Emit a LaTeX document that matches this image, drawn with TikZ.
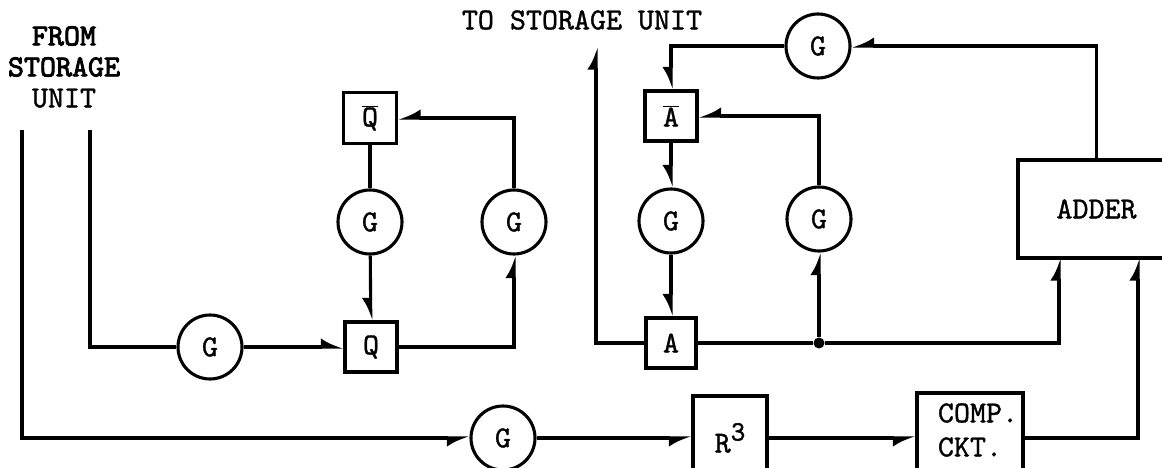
\documentclass[tikz,border=0pt]{standalone}
\usepackage{fontspec}
\newfontfamily\tw[FakeBold=1.2]{lmmono10-regular.otf}
\newfontfamily\twb[FakeBold=2.8]{lmmono10-regular.otf}
\usetikzlibrary{arrows.meta}
\begin{document}
\begin{tikzpicture}[x=1pt,y=-1pt,
  every node/.style={font=\tw\fontsize{30.5}{31}\selectfont, inner sep=0pt},
  ln/.style={line width=3.1pt},
  gate/.style={circle, draw, line width=3.1pt, minimum size=64pt},
  reg/.style={rectangle, draw, line width=3.1pt},
  arL/.style={-{Latex[harpoon,length=18pt,width=18pt]}},
  arR/.style={-{Latex[harpoon,swap,length=18pt,width=18pt]}},
]
\useasboundingbox (0,0) rectangle (1162,468);
\clip (0,0) rectangle (1162,468);

% texts
\node[align=center, font=\twb\fontsize{30.5}{31}\selectfont] (from) at (64,67) {FROM\\STORAGE\\\tw UNIT};
\node (tosu) at (582,20) {TO STORAGE UNIT};

% left cluster
\node[gate] (gL) at (210,347) {G};
\node[reg, minimum width=52pt, minimum height=50pt] (Q) at (371,347) {Q};
\node[reg, minimum width=53pt, minimum height=51pt] (Qb) at (370,118) {$\overline{\hbox{Q}}$};
\node[gate] (gQ1) at (370,222) {G};
\node[gate] (gQ2) at (514,222) {G};

% right cluster
\node[reg, minimum width=52pt, minimum height=50pt] (Ab) at (671,116) {$\overline{\hbox{A}}$};
\node[gate] (gA1) at (671,221) {G};
\node[gate] (gA2) at (819,219) {G};
\node[reg, minimum width=50pt, minimum height=50pt] (A) at (671,343) {A};
\node[gate] (gT) at (818,46) {G};
\node[reg, minimum width=157pt, minimum height=98pt] (ADD) at (1096.5,209) {ADDER};
\node[circle, fill, inner sep=0pt, minimum size=11pt] (dot) at (819,343) {};

% bottom row
\node[gate] (gB) at (503,438) {G};
\node[reg, minimum width=74pt, minimum height=84pt] (R3) at (730,438) {R\raisebox{12pt}{\fontsize{28}{28}\selectfont 3}};
\node[reg, minimum width=106pt, minimum height=90pt] (CC) at (970,438) {};
\node[align=left, font=\tw\fontsize{30.5}{34}\selectfont] (cct) at (978,430) {COMP.\\CKT.};

% free ends
\coordinate (s1) at (22,130);
\coordinate (s2) at (90,130);
\coordinate (tsu) at (596,47);
\coordinate (ai1) at (1059,258);
\coordinate (ai2) at (1138,258);

% connectors
\draw[ln] (s2) |- (gL);
\draw[ln,arL] (gL) -- (Q);
\draw[ln] (Qb) -- (gQ1);
\draw[ln,arR] (gQ1) -- (Q);
\draw[ln,arL] (Q) -| (gQ2);
\draw[ln,arR] (gQ2) |- (Qb);

\draw[ln,arR] (gT) -| (Ab);
\draw[ln,arR] (gA2) |- (Ab);
\draw[ln,arR] (Ab) -- (gA1);
\draw[ln,arR] (gA1) -- (A);
\draw[ln] (A) -- (dot);
\draw[ln,arL] (dot) -- (gA2);
\draw[ln,arL] (dot) -| (ai1);
\draw[ln,arL] (A) -| (tsu);
\draw[ln,arR] (ADD) |- (gT);

\draw[ln,arR] (s1) |- (gB);
\draw[ln,arR] (gB) -- (R3);
\draw[ln,arR] (R3) -- (CC);
\draw[ln,arL] (CC) -| (ai2);
\end{tikzpicture}
\end{document}
